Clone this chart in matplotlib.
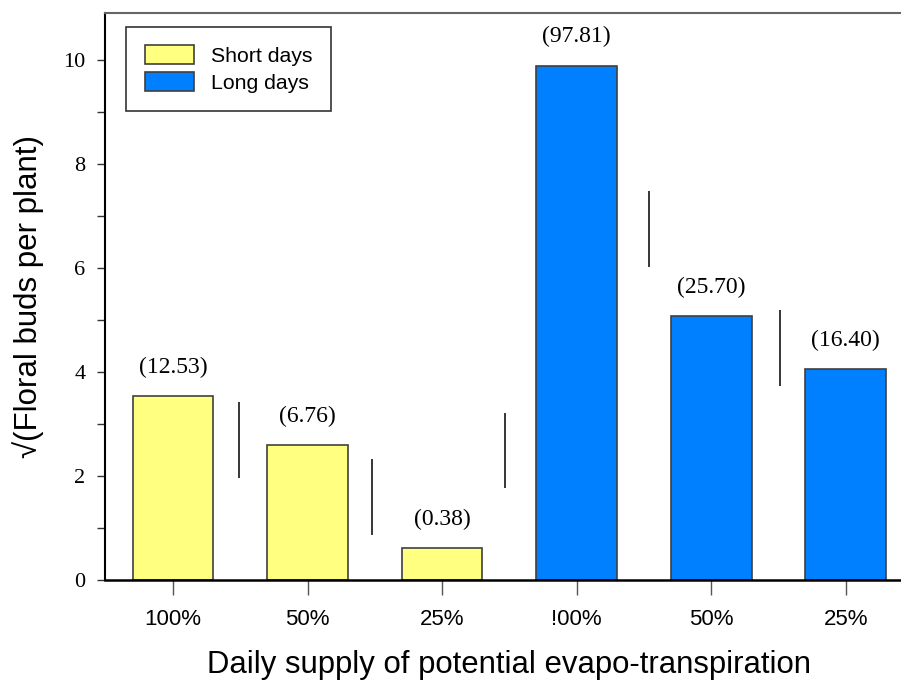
import numpy as np
from matplotlib import pyplot as plt
from matplotlib.ticker import MultipleLocator

# datos
categorias = ["100%", "50%", "25%", "!00%", "50%", "25%"]
valores = [3.54, 2.60, 0.62, 9.89, 5.07, 4.05]       # raiz de yemas florales
etiquetas = ["(12.53)", "(6.76)", "(0.38)", "(97.81)", "(25.70)", "(16.40)"]
grupo = ["Short days"] * 3 + ["Long days"] * 3
# barras LSD entre tratamientos
lsd_x = [0.49, 1.48, 2.47, 3.54, 4.51]
lsd_lo = [1.96, 0.87, 1.77, 6.02, 3.73]
lsd_hi = [3.42, 2.33, 3.21, 7.48, 5.19]

colores = {"Short days": "#FFFF80", "Long days": "#0080FF"}
serif = ["Liberation Serif", "DejaVu Serif"]
sans = ["Liberation Sans", "DejaVu Sans"]

fig = plt.figure(figsize=(9.01, 6.82), dpi=100)
ax = fig.add_axes([105 / 901, 102 / 682, 796 / 901, 567 / 682])

x = np.arange(len(valores))
for g in ["Short days", "Long days"]:
    idx = [i for i in range(len(valores)) if grupo[i] == g]
    ax.bar(x[idx], [valores[i] for i in idx], width=0.6, color=colores[g],
           edgecolor="#404040", linewidth=1.2, label=g, zorder=2)

for i in range(len(valores)):
    ax.annotate(etiquetas[i], (x[i], valores[i]), xytext=(0, 13),
                textcoords="offset points", ha="center", va="bottom",
                fontsize=17, family=serif)

ax.vlines(lsd_x, lsd_lo, lsd_hi, color="black", linewidth=1.1)

ax.set_xlim(-0.505, 5.41)
ax.set_ylim(0, 10.9)
ax.set_xticks(x)
ax.set_xticklabels(categorias, fontsize=16, family=sans)
ax.yaxis.set_major_locator(MultipleLocator(2))
ax.yaxis.set_minor_locator(MultipleLocator(1))
for t in ax.get_yticklabels():
    t.set_family(serif)
    t.set_fontsize(16)
ax.tick_params(axis="y", which="major", length=6, width=1, pad=8, color="#333333")
ax.tick_params(axis="y", which="minor", length=6, width=1, color="#333333")
ax.tick_params(axis="x", length=11, width=1, pad=10, color="#555555")

ax.spines["right"].set_visible(False)
ax.spines["top"].set_color("#666666")
ax.spines["top"].set_linewidth(1.5)
ax.spines["left"].set_linewidth(1.5)
ax.spines["bottom"].set_linewidth(1.8)

ax.set_xlabel("Daily supply of potential evapo-transpiration", fontsize=22.4,
              family=sans)
ax.xaxis.set_label_coords(0.5075, -0.15, transform=ax.transAxes)
ax.xaxis.label.set_va("center")
ax.set_ylabel("\u221a(Floral buds per plant)", fontsize=22.5, family=sans, labelpad=14)

leg = ax.legend(loc="upper left", bbox_to_anchor=(0.027, 0.975), fancybox=False,
                edgecolor="#333333", framealpha=1, prop={"family": sans, "size": 15.3},
                handlelength=2.35, handleheight=1.0, borderpad=0.85, labelspacing=0.3,
                handletextpad=0.8, borderaxespad=0)
leg.get_frame().set_linewidth(1.2)

fig.savefig("out.png", dpi=100)
